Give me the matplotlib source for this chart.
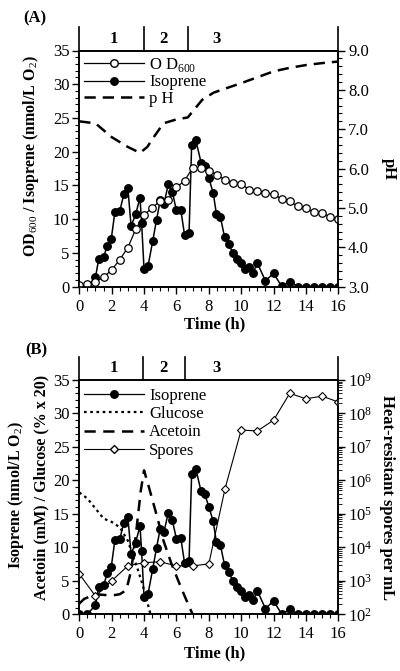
import matplotlib
matplotlib.use("Agg")
import matplotlib.pyplot as plt
from matplotlib.ticker import MultipleLocator, LogLocator, NullFormatter, FormatStrFormatter
import matplotlib.transforms as mtrans
from matplotlib.lines import Line2D

plt.rcParams['font.family'] = ['Liberation Serif', 'DejaVu Serif']
plt.rcParams['mathtext.fontset'] = 'custom'
plt.rcParams['mathtext.rm'] = 'Liberation Serif'
plt.rcParams['mathtext.bf'] = 'Liberation Serif:bold'

# ---------------- data ----------------
iso_t = [0, 0.5, 1.0, 1.2, 1.5, 1.73, 1.97, 2.2, 2.5, 2.75, 3.0, 3.2, 3.48, 3.75, 3.85,
         4.0, 4.25, 4.53, 4.77, 5.0, 5.23, 5.5, 5.74, 6.0, 6.27, 6.5, 6.78, 6.94, 7.2,
         7.52, 7.75, 8.0, 8.27, 8.47, 8.72, 8.97, 9.24, 9.48, 9.75, 9.99, 10.24, 10.5,
         10.74, 11.0, 11.5, 12.0, 12.5, 13.0, 13.5, 14.0, 14.5, 15.0, 15.5, 16.0]
iso_v = [0, 0, 1.4, 4.1, 4.35, 6.1, 7.0, 11.1, 11.2, 13.7, 14.6, 9.0, 10.7, 13.2, 9.4,
         2.6, 3.1, 6.7, 9.9, 12.8, 12.3, 15.2, 14.1, 11.3, 11.4, 7.7, 7.9, 21.0, 21.7,
         18.4, 17.9, 16.1, 13.9, 10.8, 10.3, 7.4, 6.3, 5.0, 4.1, 3.5, 2.6, 2.95,
         2.1, 3.5, 0.85, 2.0, 0.05, 0.75, 0, 0, 0, 0, 0, 0]

od_t = [0, 0.5, 1.0, 1.5, 2.0, 2.5, 3.0, 3.5, 4.0, 4.5, 5.0, 5.5, 6.0, 6.5, 7.0, 7.5,
        8.0, 8.5, 9.0, 9.5, 10.0, 10.5, 11.0, 11.5, 12.0, 12.5, 13.0, 13.5, 14.0,
        14.5, 15.0, 15.5, 16.0]
od_v = [0.25, 0.4, 0.7, 1.4, 2.5, 4.0, 5.8, 8.6, 10.6, 11.7, 12.7, 12.9, 14.7, 15.7,
        17.6, 17.6, 17.2, 16.6, 15.8, 15.4, 15.2, 14.4, 14.2, 13.9, 13.7, 13.0, 12.7,
        11.9, 11.7, 11.0, 10.9, 10.3, 10.0]

ph_t = [0, 1.0, 2.0, 3.0, 3.75, 4.2, 4.6, 5.2, 6.0, 6.7, 7.6, 8.3, 9.0, 10.0, 11.0,
        12.0, 13.0, 14.0, 15.0, 16.0]
ph_v = [7.2, 7.15, 6.8, 6.55, 6.4, 6.55, 6.8, 7.15, 7.25, 7.3, 7.75, 7.93, 8.03, 8.17,
        8.32, 8.47, 8.56, 8.63, 8.68, 8.72]

glu_t = [0, 0.5, 1.0, 1.5, 2.0, 2.5, 3.0, 3.3, 3.6, 3.9, 4.15, 4.4]
glu_v = [18.2, 17.3, 15.8, 14.3, 13.8, 13.0, 11.0, 8.8, 6.8, 4.5, 2.3, 0.0]

ace_t = [0, 0.3, 1.0, 1.5, 2.0, 2.5, 2.9, 3.2, 3.5, 3.8, 4.0, 4.3, 4.7, 5.2, 5.7, 6.2, 6.6, 7.0]
ace_v = [1.6, 2.3, 3.0, 2.9, 2.8, 3.0, 3.6, 6.5, 12.0, 18.5, 21.5, 19.0, 15.5, 11.0, 7.5, 4.5, 2.2, 0.0]

spo_t = [0, 1, 2, 3, 4, 5, 6, 7, 8, 9, 10, 11, 12, 13, 14, 15, 16]
spo_v = [1.6e3, 3.5e2, 1.0e3, 2.8e3, 3.5e3, 3.7e3, 2.8e3, 2.8e3, 3.2e3, 5.6e5, 3.2e7,
         3.0e7, 6.3e7, 4.0e8, 2.75e8, 3.3e8, 2.2e8]

phaseA = [4.0, 6.7]
phaseB = [3.95, 6.55]
phase_labels = ['1', '2', '3']
phase_label_x = [2.15, 5.2, 8.5]

# ---------------- figure ----------------
W, H = 400, 671
fig = plt.figure(figsize=(W / 100, H / 100), dpi=100)

def rect(left, right, top, bottom):
    return [left / W, 1 - bottom / H, (right - left) / W, (bottom - top) / H]

axA = fig.add_axes(rect(79.3, 338.3, 50.5, 286.7))
axB = fig.add_axes(rect(79.3, 338.3, 380, 614.3))

FS = 12

def style_main(ax, xlab_y):
    ax.set_xlim(0, 16)
    ax.set_ylim(0, 35)
    ax.xaxis.set_major_locator(MultipleLocator(2))
    ax.xaxis.set_minor_locator(MultipleLocator(0.5))
    ax.yaxis.set_major_locator(MultipleLocator(5))
    ax.yaxis.set_minor_locator(MultipleLocator(1))
    ax.tick_params(which='major', direction='out', length=5, width=1.0, labelsize=FS, pad=2)
    ax.tick_params(axis='x', which='major', pad=3.5)
    ax.tick_params(which='minor', direction='out', length=3, width=0.8)
    ax.tick_params(axis='y', which='both', right=False)
    for s in ax.spines.values():
        s.set_linewidth(1.2)
    ax.set_xlabel('Time (h)', fontsize=FS, fontweight='bold', va='center')
    ax.xaxis.set_label_coords(0.522, xlab_y)

def phase_band(ax, lines):
    tr = mtrans.blended_transform_factory(ax.transData, ax.transAxes)
    for x in [0, 16] + lines:
        ax.plot([x, x], [1.0, 1.1], transform=tr, color='black', lw=1.2, clip_on=False)
    for lab, x in zip(phase_labels, phase_label_x):
        ax.text(x, 1.05, lab, transform=tr, ha='center', va='center',
                fontsize=FS, fontweight='bold')

def vlabel(x, y, s, size):
    fig.text(x / W, 1 - y / H, s, rotation=90, ha='center', va='center',
             fontsize=size, fontweight='bold')

# ---------- Panel A ----------
style_main(axA, -0.158)
axA.plot(iso_t, iso_v, '-o', color='black', lw=1.1, ms=5.4, mfc='black', mec='black', zorder=3)
axA.plot(od_t, od_v, '-o', color='black', lw=0.9, ms=5.4, mfc='white', mec='black', mew=0.9, zorder=4)
vlabel(31, 156, 'OD$_{600}$ / Isoprene (nmol/L O$_2$)', 11.5)
axA2 = axA.twinx()
axA2.set_ylim(3, 9)
axA2.plot(ph_t, ph_v, color='black', lw=1.8, dashes=(4.5, 2.8))
axA2.yaxis.set_major_locator(MultipleLocator(1))
axA2.yaxis.set_minor_locator(MultipleLocator(0.2))
axA2.yaxis.set_major_formatter(FormatStrFormatter('%.1f'))
axA2.tick_params(which='major', direction='out', length=5, width=1.0, labelsize=FS, pad=2)
axA2.tick_params(which='minor', direction='out', length=3, width=0.8)
axA2.set_ylabel('pH', fontsize=FS, fontweight='bold', rotation=270, labelpad=20)
for s in axA2.spines.values():
    s.set_linewidth(1.2)
phase_band(axA, phaseA)
fig.text(23 / W, 1 - 18 / H, '(A)', fontsize=FS, fontweight='bold', va='center', ha='left')

hA = [Line2D([], [], color='black', lw=0.9, marker='o', ms=5.4, mfc='white', mec='black'),
      Line2D([], [], color='black', lw=0.9, marker='o', ms=5.4, mfc='black', mec='black'),
      Line2D([], [], color='black', lw=1.8, dashes=(4.5, 2.8))]
axA.legend(hA, ['O D$_{600}$', 'Isoprene', 'p H'], loc='upper left', frameon=False,
           fontsize=FS, handlelength=3.6, handletextpad=0.3, labelspacing=0.05,
           borderaxespad=0.2, borderpad=0.1)

# ---------- Panel B ----------
style_main(axB, -0.166)
axB.plot(glu_t, glu_v, color='black', lw=1.6, dashes=(1.2, 1.6), zorder=2)
axB.plot(ace_t, ace_v, color='black', lw=1.8, dashes=(4.5, 3.0), zorder=2)
axB.plot(iso_t, iso_v, '-o', color='black', lw=1.1, ms=5.4, mfc='black', mec='black', zorder=3)
vlabel(16, 495, 'Isoprene (nmol/L O$_2$)', 11.5)
vlabel(41, 487, 'Acetoin (mM) / Glucose (% x 20)', 11.5)
axB2 = axB.twinx()
axB2.set_yscale('log')
axB2.set_ylim(1e2, 1e9)
axB2.plot(spo_t, spo_v, '-D', color='black', lw=0.8, ms=4.3, mfc='white', mec='black', mew=0.8)
axB2.yaxis.set_major_locator(LogLocator(base=10, numticks=20))
axB2.yaxis.set_minor_locator(LogLocator(base=10, subs=range(2, 10), numticks=20))
axB2.yaxis.set_minor_formatter(NullFormatter())
axB2.tick_params(which='major', direction='out', length=5, width=1.0, labelsize=FS, pad=2)
axB2.tick_params(which='minor', direction='out', length=3, width=0.6)
axB2.set_ylabel('Heat-resistant spores per mL', fontsize=FS, fontweight='bold',
                rotation=270, labelpad=16)
for s in axB2.spines.values():
    s.set_linewidth(1.2)
phase_band(axB, phaseB)
fig.text(25 / W, 1 - 350 / H, '(B)', fontsize=FS, fontweight='bold', va='center', ha='left')

hB = [Line2D([], [], color='black', lw=0.9, marker='o', ms=5.4, mfc='black', mec='black'),
      Line2D([], [], color='black', lw=1.6, dashes=(1.2, 1.6)),
      Line2D([], [], color='black', lw=1.8, dashes=(4.5, 3.0)),
      Line2D([], [], color='black', lw=0.8, marker='D', ms=4.3, mfc='white', mec='black')]
axB2.legend(hB, ['Isoprene', 'Glucose', 'Acetoin', 'Spores'], loc='upper left',
            bbox_to_anchor=(0.0, 0.987), frameon=False,
            fontsize=FS, handlelength=3.6, handletextpad=0.3, labelspacing=0.13,
            borderaxespad=0.2, borderpad=0.1)

fig.savefig('out.png', dpi=100)
